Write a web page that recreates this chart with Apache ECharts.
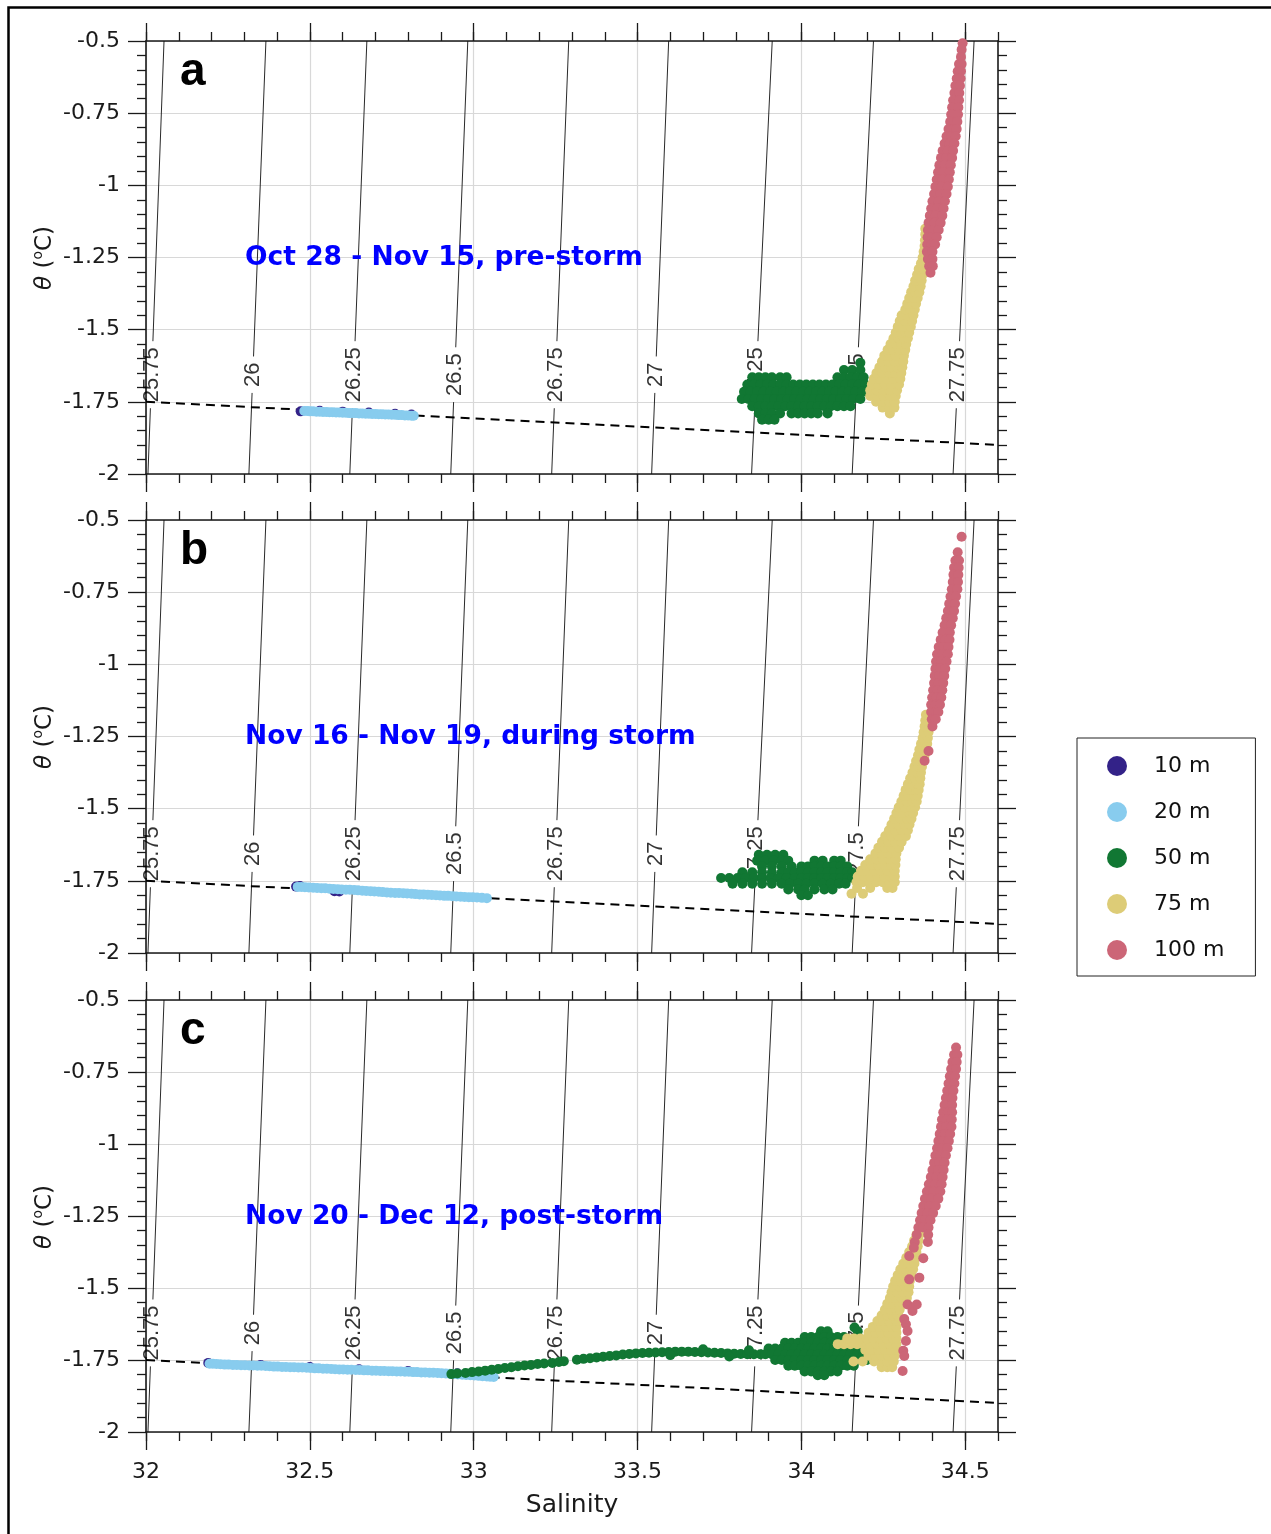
<!DOCTYPE html>
<html><head><meta charset="utf-8">
<script src="https://cdn.jsdelivr.net/npm/echarts@6/dist/echarts.min.js"></script>
<style>html,body{margin:0;padding:0;background:#fff;}#c{width:1271px;height:1534px;}</style>
</head><body><div id="c"></div>
<script>
// ---------------- DATA ----------------
const salTicks = [32, 32.5, 33, 33.5, 34, 34.5];
const thetaTicks = [-2, -1.75, -1.5, -1.25, -1, -0.75, -0.5];
const sigmaLabels = ['25.75','26','26.25','26.5','26.75','27','27.25','27.5','27.75'];
const sigmaSalAtBottom = [32.006, 32.314, 32.622, 32.930, 33.238, 33.543, 33.848, 34.155, 34.463]; // theta = -2
const sigmaSalAtTop    = [32.055, 32.366, 32.674, 32.982, 33.290, 33.595, 33.911, 34.220, 34.527]; // theta = -0.5
const freezeLine = [[32, -1.750], [34.6, -1.899]];
const panelTitles = ['Oct 28 - Nov 15, pre-storm', 'Nov 16 - Nov 19, during storm', 'Nov 20 - Dec 12, post-storm'];
const panelLetters = ['a', 'b', 'c'];
const depthNames = ['10 m', '20 m', '50 m', '75 m', '100 m'];
const depthColors = ['#332288', '#88CCEE', '#117733', '#DDCC77', '#CC6677'];

// ---- panel a ----
const a10 = [[32.472,-1.783],[32.53,-1.781],[32.6,-1.784],[32.68,-1.787],[32.76,-1.791],[32.81,-1.794]];
const a20 = [[32.483,-1.782],[32.492,-1.782],[32.5,-1.783],[32.51,-1.783],[32.52,-1.784],[32.53,-1.784],[32.54,-1.785],[32.55,-1.785],[32.56,-1.786],[32.57,-1.786],[32.58,-1.787],[32.59,-1.787],[32.6,-1.788],[32.61,-1.788],[32.62,-1.789],[32.63,-1.789],[32.64,-1.789],[32.65,-1.790],[32.66,-1.790],[32.67,-1.791],[32.68,-1.791],[32.69,-1.792],[32.7,-1.792],[32.71,-1.793],[32.72,-1.793],[32.73,-1.794],[32.74,-1.794],[32.75,-1.795],[32.76,-1.795],[32.77,-1.796],[32.78,-1.796],[32.79,-1.797],[32.8,-1.797],[32.81,-1.798],[32.817,-1.798]];
const a50Rows = [
 [-1.615, 34.18],
 [-1.64, 34.13, 34.155, 34.18],
 [-1.665, 33.85, 33.87, 33.89, 33.91, 33.935, 33.955, 34.11, 34.13, 34.15, 34.17, 34.19],
 [-1.69, 33.835, 33.855, 33.875, 33.895, 33.915, 33.935, 33.955, 33.975, 33.995, 34.015, 34.035, 34.055, 34.075, 34.095, 34.115, 34.135, 34.155, 34.175, 34.195],
 [-1.715, 33.825, 33.845, 33.865, 33.885, 33.905, 33.925, 33.945, 33.965, 33.985, 34.005, 34.025, 34.045, 34.065, 34.085, 34.105, 34.125, 34.145, 34.165, 34.185, 34.2],
 [-1.74, 33.818, 33.838, 33.858, 33.878, 33.898, 33.918, 33.938, 33.958, 33.978, 33.998, 34.018, 34.038, 34.058, 34.078, 34.098, 34.118, 34.138, 34.158, 34.18],
 [-1.765, 33.85, 33.87, 33.89, 33.91, 33.93, 33.95, 33.97, 33.99, 34.01, 34.03, 34.05, 34.07, 34.09, 34.11, 34.13, 34.15],
 [-1.79, 33.87, 33.89, 33.91, 33.935, 33.97, 33.99, 34.01, 34.03, 34.05, 34.08],
 [-1.812, 33.88, 33.9, 33.918]
];
const a75Rows = [
 [-1.79, 34.27],
 [-1.77, 34.248, 34.268, 34.284],
 [-1.75, 34.228, 34.248, 34.268, 34.285],
 [-1.73, 34.21, 34.23, 34.25, 34.27, 34.288],
 [-1.71, 34.21, 34.23, 34.25, 34.27, 34.292],
 [-1.69, 34.215, 34.235, 34.255, 34.275, 34.298],
 [-1.67, 34.221, 34.24, 34.26, 34.28, 34.302],
 [-1.65, 34.229, 34.248, 34.267, 34.286, 34.305],
 [-1.63, 34.238, 34.256, 34.274, 34.292, 34.308],
 [-1.61, 34.246, 34.265, 34.285, 34.3, 34.311],
 [-1.59, 34.253, 34.27, 34.288, 34.313],
 [-1.57, 34.263, 34.28, 34.298, 34.317],
 [-1.55, 34.272, 34.288, 34.305, 34.32],
 [-1.53, 34.281, 34.297, 34.313, 34.325],
 [-1.51, 34.288, 34.305, 34.318, 34.329],
 [-1.49, 34.294, 34.31, 34.334],
 [-1.47, 34.3, 34.316, 34.338],
 [-1.45, 34.306, 34.322, 34.342],
 [-1.43, 34.317, 34.333, 34.346],
 [-1.41, 34.323, 34.338, 34.35],
 [-1.39, 34.329, 34.343, 34.355],
 [-1.37, 34.335, 34.348, 34.36],
 [-1.35, 34.342, 34.364],
 [-1.33, 34.347, 34.367],
 [-1.31, 34.353, 34.37],
 [-1.29, 34.358, 34.372],
 [-1.27, 34.365, 34.375],
 [-1.25, 34.37, 34.378],
 [-1.23, 34.373], [-1.21, 34.376], [-1.19, 34.377], [-1.17, 34.378], [-1.15, 34.378]
];
const a100Rows = [
 [-0.508, 34.492], [-0.53, 34.489], [-0.555, 34.487],
 [-0.58, 34.481, 34.489], [-0.605, 34.477, 34.487], [-0.63, 34.474, 34.486],
 [-0.655, 34.47, 34.484], [-0.68, 34.467, 34.482], [-0.705, 34.463, 34.481],
 [-0.73, 34.46, 34.479], [-0.755, 34.457, 34.478], [-0.78, 34.454, 34.476],
 [-0.805, 34.449, 34.465, 34.474], [-0.83, 34.443, 34.458, 34.471], [-0.855, 34.437, 34.452, 34.467],
 [-0.88, 34.431, 34.447, 34.463], [-0.905, 34.426, 34.443, 34.46], [-0.93, 34.421, 34.438, 34.456],
 [-0.955, 34.417, 34.434, 34.453], [-0.98, 34.413, 34.431, 34.45], [-1.005, 34.409, 34.428, 34.447],
 [-1.03, 34.405, 34.424, 34.443], [-1.055, 34.4, 34.419, 34.438], [-1.08, 34.396, 34.414, 34.434],
 [-1.105, 34.392, 34.41, 34.43], [-1.13, 34.388, 34.406, 34.425], [-1.155, 34.386, 34.402, 34.419],
 [-1.18, 34.385, 34.399, 34.413], [-1.205, 34.384, 34.397, 34.408], [-1.23, 34.383, 34.4],
 [-1.255, 34.386, 34.4], [-1.28, 34.39, 34.401], [-1.303, 34.394]
];

// ---- panel b ----
const b10 = [[32.458,-1.770],[32.47,-1.768],[32.575,-1.786],[32.59,-1.787]];
const b20 = [[32.463,-1.771],[32.474,-1.771],[32.485,-1.772],[32.497,-1.773],[32.51,-1.774],[32.522,-1.775],[32.535,-1.776],[32.547,-1.776],[32.56,-1.777],[32.572,-1.778],[32.585,-1.779],[32.597,-1.780],[32.61,-1.781],[32.622,-1.781],[32.635,-1.782],[32.647,-1.783],[32.66,-1.784],[32.672,-1.785],[32.685,-1.786],[32.697,-1.787],[32.71,-1.788],[32.722,-1.789],[32.735,-1.790],[32.747,-1.791],[32.76,-1.792],[32.772,-1.792],[32.785,-1.793],[32.797,-1.794],[32.81,-1.795],[32.822,-1.796],[32.835,-1.797],[32.847,-1.797],[32.86,-1.798],[32.872,-1.799],[32.885,-1.800],[32.897,-1.801],[32.91,-1.802],[32.922,-1.802],[32.935,-1.803],[32.947,-1.804],[32.96,-1.805],[32.972,-1.806],[32.985,-1.807],[32.997,-1.807],[33.01,-1.808],[33.025,-1.809],[33.04,-1.810]];
const b50Rows = [
 [-1.66, 33.87, 33.895, 33.92, 33.945],
 [-1.68, 33.865, 33.89, 33.915, 33.94, 33.96, 34.04, 34.065, 34.1, 34.12],
 [-1.70, 33.88, 33.91, 33.94, 33.97, 34.0, 34.02, 34.04, 34.06, 34.08, 34.1, 34.12, 34.14],
 [-1.72, 33.82, 33.85, 33.88, 33.91, 33.94, 33.96, 33.98, 34.0, 34.02, 34.04, 34.06, 34.08, 34.1, 34.12, 34.14, 34.155],
 [-1.74, 33.755, 33.78, 33.805, 33.83, 33.855, 33.88, 33.905, 33.93, 33.955, 33.98, 34.0, 34.02, 34.04, 34.06, 34.08, 34.1, 34.12, 34.14, 34.155],
 [-1.76, 33.79, 33.82, 33.85, 33.88, 33.91, 33.94, 33.965, 33.99, 34.015, 34.04, 34.065, 34.09, 34.115, 34.135],
 [-1.78, 33.96, 33.99, 34.01, 34.04, 34.07, 34.095],
 [-1.80, 34.0, 34.02]
];
const b75Rows = [
 [-1.795, 34.153, 34.188],
 [-1.775, 34.17, 34.21, 34.262, 34.278],
 [-1.755, 34.168, 34.188, 34.208, 34.228, 34.248, 34.268, 34.285],
 [-1.735, 34.172, 34.192, 34.212, 34.232, 34.252, 34.272, 34.285],
 [-1.715, 34.182, 34.202, 34.222, 34.242, 34.262, 34.285],
 [-1.695, 34.195, 34.215, 34.235, 34.255, 34.275, 34.287],
 [-1.675, 34.21, 34.23, 34.25, 34.27, 34.288],
 [-1.655, 34.226, 34.246, 34.266, 34.29],
 [-1.635, 34.235, 34.255, 34.275, 34.298],
 [-1.615, 34.246, 34.266, 34.286, 34.306],
 [-1.595, 34.256, 34.276, 34.296, 34.319],
 [-1.575, 34.267, 34.287, 34.307, 34.325],
 [-1.555, 34.275, 34.295, 34.315, 34.33],
 [-1.535, 34.283, 34.303, 34.323, 34.336],
 [-1.515, 34.29, 34.31, 34.33, 34.341],
 [-1.495, 34.297, 34.316, 34.335, 34.347],
 [-1.475, 34.305, 34.322, 34.339, 34.352],
 [-1.455, 34.312, 34.328, 34.345, 34.355],
 [-1.435, 34.318, 34.334, 34.35, 34.358],
 [-1.415, 34.325, 34.34, 34.355, 34.361],
 [-1.395, 34.332, 34.347, 34.363],
 [-1.375, 34.339, 34.353, 34.365],
 [-1.355, 34.345, 34.358, 34.368],
 [-1.335, 34.35, 34.362, 34.372],
 [-1.315, 34.356, 34.368, 34.376],
 [-1.295, 34.36, 34.373, 34.38],
 [-1.275, 34.365, 34.378, 34.384],
 [-1.255, 34.37, 34.386], [-1.235, 34.373, 34.388], [-1.215, 34.376, 34.39],
 [-1.195, 34.378], [-1.175, 34.38]
];
const b100Rows = [
 [-0.558, 34.489], [-0.612, 34.477],
 [-0.64, 34.47, 34.481], [-0.665, 34.466, 34.48], [-0.69, 34.464, 34.479],
 [-0.715, 34.462, 34.478], [-0.74, 34.459, 34.476], [-0.765, 34.455, 34.472],
 [-0.79, 34.451, 34.469], [-0.815, 34.447, 34.466], [-0.84, 34.442, 34.462],
 [-0.865, 34.437, 34.457], [-0.89, 34.431, 34.453], [-0.915, 34.425, 34.44, 34.452],
 [-0.94, 34.419, 34.434, 34.449], [-0.965, 34.414, 34.43, 34.447], [-0.99, 34.411, 34.426, 34.443],
 [-1.015, 34.409, 34.423, 34.439], [-1.04, 34.407, 34.421, 34.436], [-1.065, 34.405, 34.419, 34.433],
 [-1.09, 34.402, 34.416, 34.43], [-1.115, 34.399, 34.413, 34.427], [-1.14, 34.396, 34.41, 34.423],
 [-1.165, 34.396, 34.41, 34.418], [-1.19, 34.398, 34.41], [-1.215, 34.4],
 [-1.3, 34.388], [-1.334, 34.376]
];

// ---- panel c ----
const c10 = [[32.19,-1.760],[32.35,-1.767],[32.5,-1.774],[32.65,-1.782],[32.8,-1.788],[32.95,-1.796],[33.05,-1.804]];
const c20 = [[32.194,-1.763],[32.204,-1.763],[32.215,-1.764],[32.227,-1.765],[32.24,-1.766],[32.252,-1.766],[32.265,-1.767],[32.277,-1.767],[32.29,-1.768],[32.302,-1.768],[32.315,-1.769],[32.327,-1.769],[32.34,-1.770],[32.352,-1.770],[32.365,-1.771],[32.377,-1.772],[32.39,-1.773],[32.402,-1.773],[32.415,-1.774],[32.427,-1.774],[32.44,-1.775],[32.452,-1.775],[32.465,-1.776],[32.477,-1.776],[32.49,-1.777],[32.502,-1.778],[32.515,-1.779],[32.527,-1.779],[32.54,-1.780],[32.552,-1.780],[32.565,-1.781],[32.577,-1.782],[32.59,-1.783],[32.602,-1.783],[32.615,-1.784],[32.627,-1.784],[32.64,-1.785],[32.652,-1.785],[32.665,-1.786],[32.677,-1.786],[32.69,-1.787],[32.702,-1.787],[32.715,-1.788],[32.727,-1.788],[32.74,-1.789],[32.752,-1.789],[32.765,-1.790],[32.777,-1.790],[32.79,-1.791],[32.802,-1.791],[32.815,-1.792],[32.827,-1.792],[32.84,-1.793],[32.852,-1.793],[32.865,-1.794],[32.877,-1.794],[32.89,-1.795],[32.902,-1.796],[32.915,-1.797],[32.927,-1.798],[32.94,-1.799],[32.952,-1.800],[32.965,-1.801],[32.977,-1.802],[32.99,-1.803],[33.002,-1.804],[33.015,-1.805],[33.027,-1.806],[33.04,-1.807],[33.05,-1.808],[33.061,-1.809]];
const c50Trail = [[32.932,-1.799],[32.95,-1.797],[32.975,-1.795],[32.995,-1.792],[33.015,-1.790],[33.035,-1.787],[33.055,-1.784],[33.075,-1.781],[33.095,-1.778],[33.115,-1.775],[33.135,-1.772],[33.155,-1.769],[33.175,-1.767],[33.195,-1.764],[33.215,-1.762],[33.24,-1.760],[33.26,-1.757],[33.275,-1.754],[33.315,-1.749],[33.335,-1.746],[33.355,-1.744],[33.375,-1.741],[33.395,-1.739],[33.415,-1.736],[33.435,-1.734],[33.455,-1.731],[33.475,-1.729],[33.495,-1.727],[33.515,-1.726],[33.535,-1.725],[33.555,-1.724],[33.575,-1.723],[33.595,-1.722],[33.615,-1.721],[33.635,-1.721],[33.655,-1.721],[33.675,-1.722],[33.695,-1.723],[33.715,-1.724],[33.735,-1.725],[33.755,-1.726],[33.775,-1.727],[33.795,-1.728],[33.815,-1.729],[33.835,-1.730],[33.855,-1.730],[33.875,-1.730],[33.6,-1.733],[33.7,-1.713],[33.78,-1.738],[33.84,-1.716]];
const c50Rows = [
 [-1.637, 34.162],
 [-1.65, 34.06, 34.08, 34.172],
 [-1.67, 34.01, 34.03, 34.05, 34.07, 34.09, 34.11, 34.13],
 [-1.69, 33.95, 33.97, 33.99, 34.01, 34.03, 34.05, 34.07, 34.09, 34.11, 34.13, 34.15],
 [-1.71, 33.9, 33.92, 33.94, 33.96, 33.98, 34.0, 34.02, 34.04, 34.06, 34.08, 34.1, 34.12, 34.14, 34.16, 34.18],
 [-1.73, 33.89, 33.91, 33.93, 33.95, 33.97, 33.99, 34.01, 34.03, 34.05, 34.07, 34.09, 34.11, 34.13, 34.15, 34.17, 34.19],
 [-1.75, 33.92, 33.94, 33.96, 33.98, 34.0, 34.02, 34.04, 34.06, 34.08, 34.1, 34.12, 34.14, 34.16, 34.18, 34.2],
 [-1.77, 33.96, 33.98, 34.0, 34.02, 34.04, 34.06, 34.08, 34.1, 34.12, 34.14, 34.16],
 [-1.79, 34.01, 34.03, 34.05, 34.07, 34.09, 34.11],
 [-1.803, 34.05, 34.07]
];
const c75Rows = [
 [-1.775, 34.245, 34.262, 34.277],
 [-1.755, 34.159, 34.187, 34.222, 34.242, 34.262, 34.282],
 [-1.735, 34.205, 34.225, 34.245, 34.265, 34.285],
 [-1.715, 34.195, 34.215, 34.235, 34.255, 34.275, 34.288],
 [-1.695, 34.111, 34.13, 34.15, 34.17, 34.19, 34.21, 34.23, 34.25, 34.27, 34.29],
 [-1.675, 34.14, 34.16, 34.18, 34.2, 34.22, 34.24, 34.26, 34.28, 34.29],
 [-1.655, 34.205, 34.225, 34.245, 34.265, 34.29],
 [-1.635, 34.218, 34.238, 34.258, 34.278, 34.29],
 [-1.615, 34.232, 34.25, 34.268, 34.29],
 [-1.595, 34.245, 34.262, 34.279, 34.294],
 [-1.575, 34.255, 34.272, 34.289, 34.3],
 [-1.555, 34.262, 34.28, 34.298, 34.31],
 [-1.535, 34.27, 34.288, 34.306, 34.322],
 [-1.515, 34.275, 34.293, 34.311, 34.327],
 [-1.495, 34.28, 34.298, 34.316, 34.329],
 [-1.475, 34.286, 34.304, 34.32, 34.331],
 [-1.455, 34.294, 34.31, 34.326, 34.336],
 [-1.435, 34.302, 34.318, 34.333, 34.341],
 [-1.415, 34.311, 34.327, 34.345],
 [-1.395, 34.32, 34.335, 34.348],
 [-1.375, 34.329, 34.343, 34.351],
 [-1.355, 34.338, 34.355],
 [-1.335, 34.344, 34.358],
 [-1.315, 34.351, 34.36],
 [-1.295, 34.362]
];
const c100Rows = [
 [-0.665, 34.472], [-0.69, 34.466, 34.476], [-0.715, 34.461, 34.474],
 [-0.74, 34.457, 34.472], [-0.765, 34.453, 34.469], [-0.79, 34.449, 34.467],
 [-0.815, 34.445, 34.464], [-0.84, 34.441, 34.461], [-0.865, 34.437, 34.46],
 [-0.89, 34.433, 34.447, 34.46], [-0.915, 34.429, 34.444, 34.459], [-0.94, 34.426, 34.442, 34.458],
 [-0.965, 34.422, 34.438, 34.454], [-0.99, 34.418, 34.434, 34.45], [-1.015, 34.414, 34.43, 34.446],
 [-1.04, 34.409, 34.425, 34.441], [-1.065, 34.405, 34.421, 34.437], [-1.09, 34.4, 34.417, 34.434],
 [-1.115, 34.395, 34.413, 34.431], [-1.14, 34.389, 34.408, 34.428], [-1.165, 34.383, 34.403, 34.424],
 [-1.19, 34.377, 34.397, 34.418], [-1.215, 34.372, 34.39, 34.41], [-1.24, 34.367, 34.384, 34.402],
 [-1.265, 34.362, 34.378, 34.394], [-1.29, 34.357, 34.372, 34.388], [-1.315, 34.352, 34.387],
 [-1.34, 34.346, 34.386], [-1.36, 34.343]
];
const c100Dots = [[34.329,-1.389],[34.372,-1.397],[34.36,-1.464],[34.329,-1.470],[34.339,-1.580],[34.324,-1.557],[34.352,-1.557],[34.314,-1.608],[34.319,-1.626],[34.324,-1.649],[34.319,-1.684],[34.311,-1.718],[34.314,-1.736],[34.309,-1.788]];

// ---------------- BUILD ----------------
function fromRows(rows) {
  const out = [];
  rows.forEach(r => { for (let k = 1; k < r.length; k++) out.push([r[k], r[0]]); });
  return out;
}
const panelData = [
  [a10, a20, fromRows(a50Rows), fromRows(a75Rows), fromRows(a100Rows)],
  [b10, b20, fromRows(b50Rows), fromRows(b75Rows), fromRows(b100Rows)],
  [c10, c20, c50Trail.concat(fromRows(c50Rows)), fromRows(c75Rows), fromRows(c100Rows).concat(c100Dots)]
];

const gridTops = [41, 520, 1000];
const gridHeights = [433, 433, 432];
const pxPerTheta = 433 / 1.5;
const labelTheta = -1.656;
const axisLS = { color: '#1a1a1a', width: 1.6 };
const tickLS = { color: '#1a1a1a', width: 1.3 };
const gridLS = { color: '#d8d8d8', width: 1.2 };
const tickFont = { fontFamily: 'DejaVu Sans', fontSize: 22, color: '#1a1a1a' };

function salAt(k, th) {
  return sigmaSalAtBottom[k] + (sigmaSalAtTop[k] - sigmaSalAtBottom[k]) * (th + 2) / 1.5;
}
function labelLen(s) {
  let w = 0;
  for (const ch of s) w += (ch === '.') ? 0.278 : 0.556;
  return w * 22;
}
const isoSegments = [], isoLabels = [];
sigmaLabels.forEach((lab, k) => {
  const half = (labelLen(lab) / 2 + 6) / pxPerTheta;
  const t1 = labelTheta - half, t2 = labelTheta + half;
  isoSegments.push({ coords: [[sigmaSalAtBottom[k], -2], [salAt(k, t1), t1]] });
  isoSegments.push({ coords: [[salAt(k, t2), t2], [sigmaSalAtTop[k], -0.5]] });
  isoLabels.push({ name: lab, value: [salAt(k, labelTheta), labelTheta] });
});

const grid = [], xAxis = [], yAxis = [], series = [], graphic = [];
for (let i = 0; i < 3; i++) {
  grid.push({ left: 146, top: gridTops[i], width: 852, height: gridHeights[i], containLabel: false, outerBoundsMode: 'none' });
  const base = { gridIndex: i, type: 'value', min: 32, max: 34.6, splitLine: { show: false } };
  xAxis.push(Object.assign({}, base, {
    position: 'bottom', interval: 0.5,
    axisLine: { show: true, onZero: false, lineStyle: axisLS },
    axisTick: { show: true, length: 18, lineStyle: tickLS, customValues: salTicks },
    axisLabel: Object.assign({ show: i === 2, margin: 29, customValues: salTicks }, tickFont),
    splitLine: { show: true, lineStyle: gridLS }
  }));
  xAxis.push(Object.assign({}, base, {
    position: 'top', interval: 0.5,
    axisLine: { show: true, onZero: false, lineStyle: axisLS },
    axisTick: { show: true, length: 18, lineStyle: tickLS, customValues: salTicks },
    axisLabel: { show: false }
  }));
  xAxis.push(Object.assign({}, base, {
    position: 'bottom', interval: 0.1,
    axisLine: { show: false, onZero: false },
    axisTick: { show: true, length: 9, lineStyle: tickLS },
    axisLabel: { show: false }
  }));
  xAxis.push(Object.assign({}, base, {
    position: 'top', interval: 0.1,
    axisLine: { show: false, onZero: false },
    axisTick: { show: true, length: 9, lineStyle: tickLS },
    axisLabel: { show: false }
  }));
  const ybase = { gridIndex: i, type: 'value', min: -2, max: -0.5, interval: 0.25,
    axisLine: { show: true, onZero: false, lineStyle: axisLS },
    axisTick: { show: true, length: 18, lineStyle: tickLS },
    minorTick: { show: true, splitNumber: 5, length: 9, lineStyle: tickLS } };
  yAxis.push(Object.assign({}, ybase, {
    position: 'left',
    axisLabel: Object.assign({ show: true, margin: 26 }, tickFont),
    splitLine: { show: true, lineStyle: gridLS }
  }));
  yAxis.push(Object.assign({}, ybase, {
    position: 'right', axisLabel: { show: false }, splitLine: { show: false }
  }));

  const xi = 4 * i, yi = 2 * i;
  series.push({
    type: 'lines', coordinateSystem: 'cartesian2d', xAxisIndex: xi, yAxisIndex: yi,
    data: isoSegments, lineStyle: { color: '#111', width: 0.9, opacity: 1 }, z: 1, silent: true
  });
  series.push({
    type: 'scatter', xAxisIndex: xi, yAxisIndex: yi, data: isoLabels, symbol: 'circle', symbolSize: 1,
    itemStyle: { color: 'rgba(0,0,0,0)', borderWidth: 0 }, z: 1, silent: true,
    label: { show: true, position: 'inside', rotate: 90, formatter: '{b}', fontFamily: 'Liberation Sans', fontSize: 22, color: '#000', textBorderWidth: 0 }
  });
  series.push({
    type: 'line', xAxisIndex: xi, yAxisIndex: yi, data: freezeLine, symbol: 'none', z: 1, silent: true,
    lineStyle: { color: '#000', width: 2, type: [9, 6] }
  });
  for (let d = 0; d < 5; d++) {
    series.push({
      name: depthNames[d], type: 'scatter', xAxisIndex: xi, yAxisIndex: yi, data: panelData[i][d],
      symbol: 'circle', symbolSize: 10,
      itemStyle: { color: depthColors[d], opacity: 1, borderWidth: 0, borderColor: depthColors[d] },
      z: 3, silent: true, emphasis: { disabled: true }
    });
  }

  const off = gridTops[i] - 41;
  graphic.push({ type: 'text', z: 100, x: 180, y: 72 + off, style: { text: panelLetters[i], fontFamily: 'Liberation Sans', fontWeight: 'bold', fontSize: 46, fill: '#000', verticalAlign: 'middle' } });
  graphic.push({ type: 'text', z: 100, x: 245, y: 258 + off, style: { text: panelTitles[i], fontFamily: 'DejaVu Sans', fontWeight: 'bold', fontSize: 26.5, fill: '#0000ff', verticalAlign: 'middle' } });
  graphic.push({ type: 'text', z: 100, x: 44, y: 258 + off, rotation: Math.PI / 2,
    style: { text: '{t|θ}{n| (}{s|o}{n|C)}', align: 'center', verticalAlign: 'middle', fill: '#1a1a1a',
      rich: {
        t: { fontFamily: 'DejaVu Sans', fontStyle: 'italic', fontSize: 23, fill: '#1a1a1a', verticalAlign: 'bottom', lineHeight: 26 },
        n: { fontFamily: 'DejaVu Sans', fontSize: 23, fill: '#1a1a1a', verticalAlign: 'bottom', lineHeight: 26 },
        s: { fontFamily: 'DejaVu Sans', fontSize: 14, fill: '#1a1a1a', verticalAlign: 'bottom', lineHeight: 14, padding: [0, 0, 12, 0] }
      } } });
}
graphic.push({ type: 'text', z: 100, x: 572, y: 1505, style: { text: 'Salinity', fontFamily: 'DejaVu Sans', fontSize: 25, fill: '#1a1a1a', align: 'center', verticalAlign: 'middle' } });
graphic.push({ type: 'polyline', z: 100, shape: { points: [[8.5, 1534], [8.5, 7.5], [1271, 7.5]] }, style: { stroke: '#000', lineWidth: 2.5, fill: null } });

const option = {
  animation: false,
  backgroundColor: '#fff',
  grid, xAxis, yAxis, series, graphic,
  legend: {
    data: depthNames, orient: 'vertical', left: 1077, top: 738, icon: 'circle',
    itemWidth: 20, itemHeight: 20, itemGap: 24, padding: [17, 31, 15, 30],
    borderColor: '#222', borderWidth: 1, borderRadius: 0, selectedMode: false,
    itemStyle: { borderWidth: 0 },
    textStyle: { fontFamily: 'DejaVu Sans', fontSize: 22, color: '#111', padding: [0, 0, 0, 22], lineHeight: 20 }
  }
};
const chart = echarts.init(document.getElementById('c'), null, { renderer: 'canvas' });
chart.setOption(option);
</script></body></html>
